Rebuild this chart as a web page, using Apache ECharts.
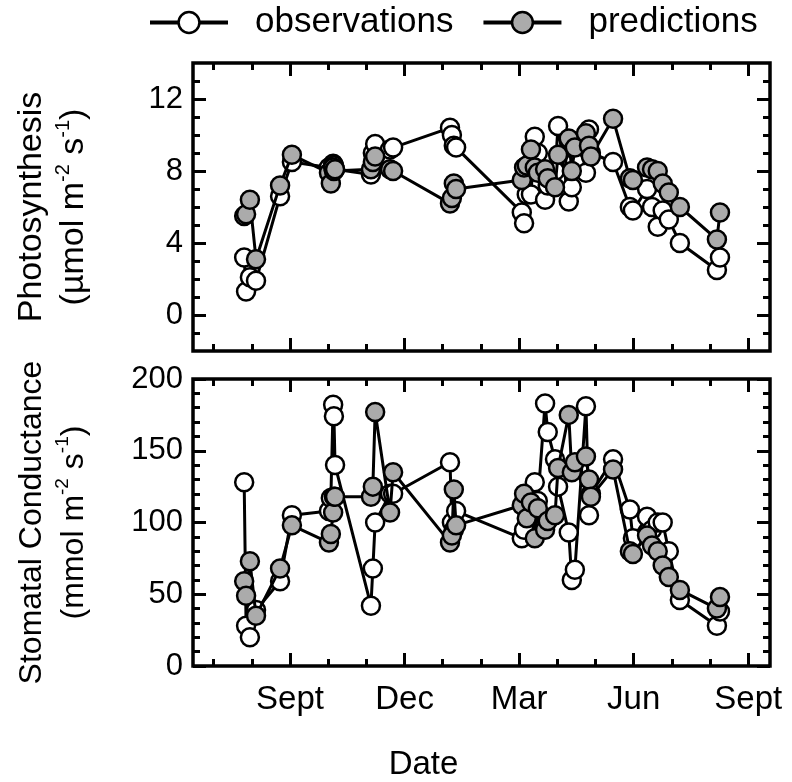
<!DOCTYPE html>
<html><head><meta charset="utf-8">
<script src="https://cdn.jsdelivr.net/npm/echarts@6/dist/echarts.min.js"></script>
<style>html,body{margin:0;padding:0;background:#fff}#c{width:792px;height:782px}</style>
</head><body><div id="c"></div>
<script>
// months since 1 September (year 1)
const dates = [-1.20,-1.15,-1.05,-0.89,-0.26,0.05,1.02,1.07,1.13,1.15,1.18,2.12,2.17,2.23,2.62,2.70,4.19,4.24,4.29,4.35,6.07,6.13,6.20,6.31,6.41,6.49,6.68,6.75,6.94,7.02,7.30,7.38,7.46,7.75,7.83,7.88,8.46,8.90,8.98,9.35,9.48,9.63,9.76,9.92,10.21,11.18,11.26];
const photoObs  = [3.2,1.3,2.1,1.9,6.6,8.5,8.2,8.0,8.4,8.3,8.1,7.8,9.0,9.5,9.2,9.3,10.4,10.0,9.4,9.3,5.7,5.1,6.7,6.7,9.9,9.0,6.4,7.2,8.0,10.5,6.3,7.1,8.5,7.9,10.3,9.0,8.5,6.0,5.8,7.0,6.0,4.9,5.8,5.3,4.0,2.5,3.2];
const photoPred = [5.5,5.6,6.4,3.1,7.2,8.9,7.9,7.3,8.2,8.0,8.1,8.1,8.5,8.8,8.1,8.0,6.2,6.5,7.3,7.0,7.5,8.2,8.3,9.2,8.2,7.9,8.1,7.6,7.1,8.9,9.8,8.0,9.3,10.1,9.4,8.8,10.9,7.6,7.5,8.2,8.1,8.0,7.3,6.8,6.0,4.2,5.7];
const condObs   = [128,28,20,39,59,105,108,117,182,174,140,42,68,100,120,120,142,100,95,108,89,95,110,105,128,115,183,163,144,125,93,60,67,181,105,120,144,109,89,104,95,100,100,80,46,28,38];
const condPred  = [59,49,73,35,68,98,86,92,107,118,118,118,125,177,107,135,86,91,123,98,112,120,103,114,89,110,95,101,105,138,175,135,142,146,130,118,137,80,78,91,84,80,70,62,53,40,48];

const monthLabelValues = [0,3,6,9,12];
const monthLabels = ['Sept','Dec','Mar','Jun','Sept'];
const monthMinorValues = [-2,-1,1,2,4,5,7,8,10,11];
const photoMajor = [0,4,8,12];
const photoMinor = [-1,1,2,3,5,6,7,9,10,11,13];
const condMajor = [0,50,100,150,200];
const condMinor = [10,20,30,40,60,70,80,90,110,120,130,140,160,170,180,190];

const X_MIN = -2.54, X_MAX = 12.57;
const FONT = 'Liberation Sans, Arial, sans-serif';

function tickAxis(grid, pos, vals, len, min, max, labels, fmt, fs, margin) {
  return {
    type: 'value', gridIndex: grid, position: pos, min: min, max: max,
    axisLine: {show: false, onZero: false}, splitLine: {show: false},
    axisTick: {show: true, inside: true, length: len, customValues: vals,
               lineStyle: {color: '#000', width: 3}},
    axisLabel: labels ? {show: true, customValues: vals, formatter: fmt,
               color: '#000', fontSize: fs, fontFamily: FONT, margin: margin}
               : {show: false},
    axisPointer: {show: false}
  };
}

const xAxis = [], yAxis = [];
[0,1].forEach(g => {
  const lbl = g === 1;
  xAxis.push(Object.assign(tickAxis(g, 'bottom', monthLabelValues, 13, X_MIN, X_MAX, lbl,
     v => monthLabels[monthLabelValues.indexOf(v)], 33, 17), g === 1 ? {
       name: 'Date', nameLocation: 'middle', nameGap: 82,
       nameTextStyle: {fontSize: 33, fontFamily: FONT, color: '#000', padding: [0, 116, 0, 0]}
     } : {}));
  xAxis.push(tickAxis(g, 'bottom', monthMinorValues, 7, X_MIN, X_MAX, false));
  xAxis.push(tickAxis(g, 'top', monthLabelValues, 13, X_MIN, X_MAX, false));
  xAxis.push(tickAxis(g, 'top', monthMinorValues, 7, X_MIN, X_MAX, false));
});

function richTitle(fs) {
  return {
    a: {fontSize: fs, fontFamily: FONT, color: '#000', lineHeight: 42},
    s: {fontSize: Math.round(fs * 0.6), fontFamily: FONT, color: '#000', lineHeight: 42, verticalAlign: 'top'}
  };
}
yAxis.push(Object.assign(tickAxis(0, 'left', photoMajor, 13, -2, 14, true, v => String(v), 31, 10), {
  name: '{a|Photosynthesis}\n{a|(µmol m}{s|-2}{a| s}{s|-1}{a|)}',
  nameLocation: 'middle', nameRotate: 90, nameGap: 98,
  nameTextStyle: {rich: richTitle(34), align: 'center'}
}));
yAxis.push(tickAxis(0, 'left', photoMinor, 7, -2, 14, false));
yAxis.push(tickAxis(0, 'right', photoMajor, 13, -2, 14, false));
yAxis.push(tickAxis(0, 'right', photoMinor, 7, -2, 14, false));
yAxis.push(Object.assign(tickAxis(1, 'left', condMajor, 13, 0, 200, true, v => String(v), 31, 10), {
  name: '{a|Stomatal Conductance}\n{a|(mmol m}{s|-2}{a| s}{s|-1}{a|)}',
  nameLocation: 'middle', nameRotate: 90, nameGap: 98,
  nameTextStyle: {rich: richTitle(32), align: 'center'}
}));
yAxis.push(tickAxis(1, 'left', condMinor, 7, 0, 200, false));
yAxis.push(tickAxis(1, 'right', condMajor, 13, 0, 200, false));
yAxis.push(tickAxis(1, 'right', condMinor, 7, 0, 200, false));

function mkSeries(name, vals, grid, fill, z) {
  return {
    name: name, type: 'line', xAxisIndex: grid * 4, yAxisIndex: grid * 4,
    data: dates.map((d, i) => [d, vals[i]]),
    symbol: 'circle', symbolSize: 18, z: z,
    lineStyle: {color: '#000', width: 3},
    itemStyle: {color: fill, borderColor: '#000', borderWidth: 2.5},
    emphasis: {disabled: true}, animation: false
  };
}
const OBS_FILL = '#ffffff', PRED_FILL = '#ababab';

const option = {
  backgroundColor: '#fff',
  animation: false,
  legend: {
    data: ['observations', 'predictions'], top: 0, left: 143,
    itemWidth: 78, itemHeight: 26, itemGap: 28,
    lineStyle: {width: 4, color: '#000'},
    itemStyle: {borderWidth: 2.5, borderColor: '#000'},
    textStyle: {fontSize: 35, fontFamily: FONT, color: '#000', padding: [0, 0, 0, 22]}
  },
  grid: [
    {left: 193, top: 63, width: 577, height: 288, show: true, borderColor: '#000', borderWidth: 3.5, containLabel: false},
    {left: 193, top: 379, width: 577, height: 289, show: true, borderColor: '#000', borderWidth: 3.5, containLabel: false}
  ],
  xAxis: xAxis, yAxis: yAxis,
  series: [
    mkSeries('observations', photoObs, 0, OBS_FILL, 2),
    mkSeries('predictions', photoPred, 0, PRED_FILL, 3),
    mkSeries('observations', condObs, 1, OBS_FILL, 2),
    mkSeries('predictions', condPred, 1, PRED_FILL, 3)
  ]
};
const chart = echarts.init(document.getElementById('c'), null, {renderer: 'canvas'});
chart.setOption(option);
</script></body></html>
